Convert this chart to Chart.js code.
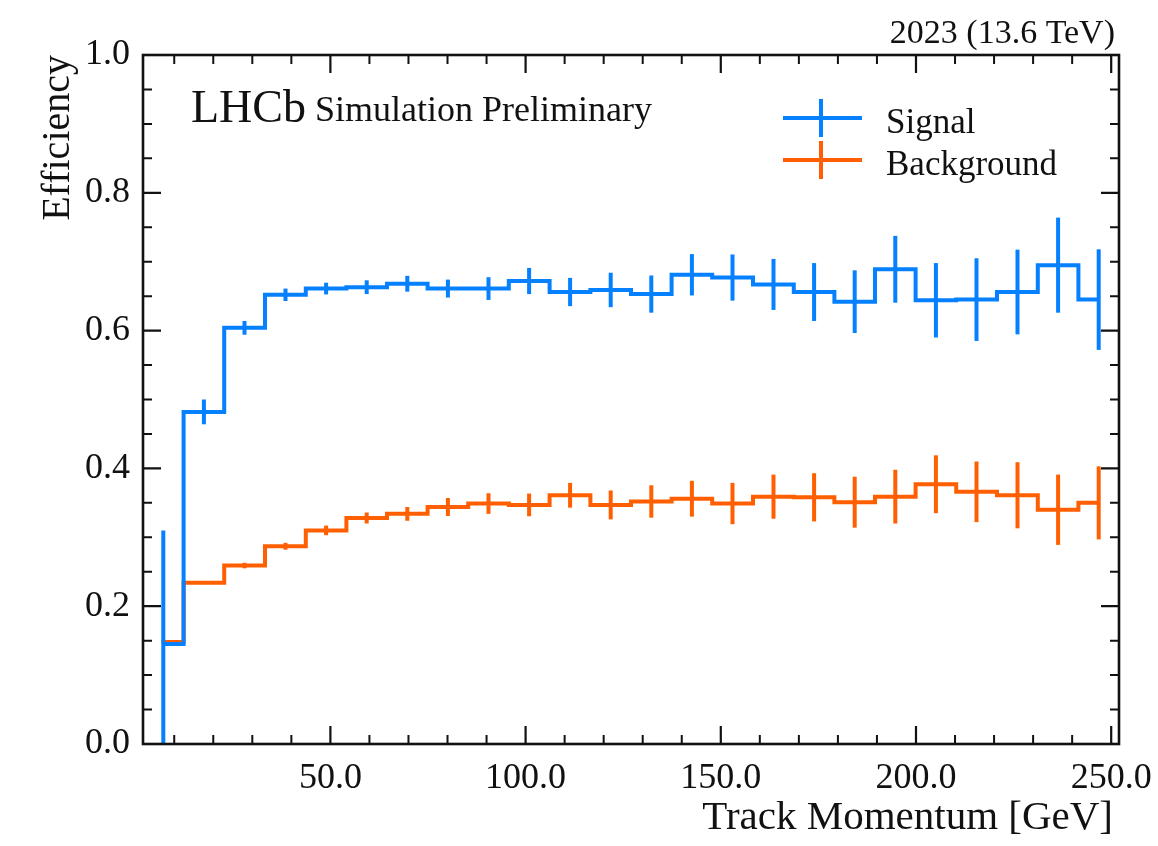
<!DOCTYPE html>
<html>
<head>
<meta charset="utf-8">
<script src="https://cdn.jsdelivr.net/npm/chart.js@4.4.1/dist/chart.umd.min.js"></script>
<style>
  html, body { margin: 0; padding: 0; background: #ffffff; }
  #wrap { width: 1158px; height: 846px; }
</style>
</head>
<body>
<div id="wrap"><canvas id="effChart" width="1158" height="846"></canvas></div>
<script>
// Bin centres of the track momentum histogram [GeV]
const binCenters = [7.2, 17.6, 28.0, 38.5, 48.9, 59.3, 69.7, 80.1, 90.5, 100.9, 111.4, 121.8,
                    132.2, 142.6, 153.0, 163.5, 173.9, 184.3, 194.7, 205.1, 215.5, 226.0, 236.4, 246.8];

// Efficiencies
const signalEff = [0.145, 0.482, 0.604, 0.652, 0.661, 0.663, 0.668, 0.661, 0.661, 0.672, 0.656, 0.659,
                   0.653, 0.681, 0.677, 0.667, 0.656, 0.642, 0.689, 0.644, 0.645, 0.656, 0.695, 0.645];
const signalErr = [0.165, 0.018, 0.010, 0.009, 0.0085, 0.010, 0.0115, 0.013, 0.0165, 0.019, 0.0205, 0.025,
                   0.027, 0.030, 0.0335, 0.037, 0.042, 0.0455, 0.0485, 0.054, 0.060, 0.0615, 0.069, 0.073];

const backgroundEff = [0.148, 0.234, 0.259, 0.287, 0.310, 0.328, 0.334, 0.344, 0.349, 0.347, 0.361, 0.347,
                       0.352, 0.356, 0.349, 0.359, 0.358, 0.351, 0.359, 0.377, 0.366, 0.361, 0.340, 0.350];
const backgroundErr = [0.002, 0.002, 0.004, 0.005, 0.007, 0.008, 0.010, 0.013, 0.015, 0.0165, 0.018, 0.021,
                       0.0235, 0.026, 0.030, 0.032, 0.035, 0.037, 0.039, 0.042, 0.044, 0.048, 0.051, 0.053];

const seriesLabels = ['Signal', 'Background'];

// Axis ticks
const xMajorTicks = [50, 100, 150, 200, 250];
const xMinorTicks = [10, 20, 30, 40, 60, 70, 80, 90, 110, 120, 130, 140, 160, 170, 180, 190, 210, 220, 230, 240];
const yMajorTicks = [0.0, 0.2, 0.4, 0.6, 0.8, 1.0];
const yMinorTicks = [0.05, 0.1, 0.15, 0.25, 0.3, 0.35, 0.45, 0.5, 0.55, 0.65, 0.7, 0.75, 0.85, 0.9, 0.95];

const SERIF = '"Liberation Serif", "DejaVu Serif", serif';
const BLUE = '#0580ff';
const ORANGE = '#ff5f00';

function toPoints(xs, ys) {
    return xs.map((x, i) => ({ x: x, y: ys[i] }));
}

/**
 * Error bars, inward ticks on all sides, frame, legend and labels
 */
const hepStyle = {
    id: 'hepStyle',
    afterDatasetDraw(chart, args) {
        const ds = chart.data.datasets[args.index];
        const { ctx, chartArea, scales: { x, y } } = chart;
        ctx.save();
        ctx.beginPath();
        ctx.rect(chartArea.left, chartArea.top, chartArea.right - chartArea.left, chartArea.bottom - chartArea.top);
        ctx.clip();
        ctx.strokeStyle = ds.borderColor;
        ctx.lineWidth = 4;
        ds.data.forEach((p, i) => {
            const px = x.getPixelForValue(p.x);
            ctx.beginPath();
            ctx.moveTo(px, y.getPixelForValue(p.y - ds.errors[i]));
            ctx.lineTo(px, y.getPixelForValue(p.y + ds.errors[i]));
            ctx.stroke();
        });
        ctx.restore();
    },
    afterDraw(chart) {
        const { ctx, chartArea: a, scales: { x, y } } = chart;
        ctx.save();
        ctx.strokeStyle = '#111';

        // ticks pointing into the plot, on all four sides
        const drawX = (vals, len) => vals.forEach(v => {
            const px = x.getPixelForValue(v);
            ctx.beginPath();
            ctx.moveTo(px, a.bottom); ctx.lineTo(px, a.bottom - len);
            ctx.moveTo(px, a.top); ctx.lineTo(px, a.top + len);
            ctx.stroke();
        });
        const drawY = (vals, len) => vals.forEach(v => {
            const py = y.getPixelForValue(v);
            ctx.beginPath();
            ctx.moveTo(a.left, py); ctx.lineTo(a.left + len, py);
            ctx.moveTo(a.right, py); ctx.lineTo(a.right - len, py);
            ctx.stroke();
        });
        ctx.lineWidth = 2.2;
        drawX(xMajorTicks, 18);
        drawY(yMajorTicks, 18);
        ctx.lineWidth = 2;
        drawX(xMinorTicks, 9);
        drawY(yMinorTicks, 9);

        // frame
        ctx.lineWidth = 2.6;
        ctx.strokeRect(a.left, a.top, a.right - a.left, a.bottom - a.top);

        // texts
        ctx.fillStyle = '#111';
        ctx.textBaseline = 'alphabetic';
        ctx.textAlign = 'left';
        ctx.font = '46px ' + SERIF;
        ctx.fillText('LHCb', 191, 122);
        ctx.font = '36px ' + SERIF;
        ctx.fillText('Simulation Preliminary', 315, 121);

        ctx.textAlign = 'right';
        ctx.font = '34px ' + SERIF;
        ctx.fillText('2023 (13.6 TeV)', 1115, 43);

        ctx.font = '41px ' + SERIF;
        ctx.fillText('Track Momentum [GeV]', 1113, 829);

        ctx.save();
        ctx.translate(58, a.top);
        ctx.rotate(-Math.PI / 2);
        ctx.textAlign = 'right';
        ctx.textBaseline = 'middle';
        ctx.font = '40px ' + SERIF;
        ctx.fillText('Efficiency', 0, 0);
        ctx.restore();

        // legend: line with a vertical error bar
        chart.data.datasets.forEach((ds, i) => {
            const ly = 118 + i * 42;
            ctx.strokeStyle = ds.borderColor;
            ctx.lineWidth = 4;
            ctx.beginPath();
            ctx.moveTo(783, ly); ctx.lineTo(862, ly);
            ctx.moveTo(821, ly - 19); ctx.lineTo(821, ly + 19);
            ctx.stroke();
            ctx.fillStyle = '#111';
            ctx.textAlign = 'left';
            ctx.textBaseline = 'alphabetic';
            ctx.font = '35px ' + SERIF;
            ctx.fillText(ds.label, 886, ly + 15);
        });
        ctx.restore();
    }
};

const ctx = document.getElementById('effChart').getContext('2d');

new Chart(ctx, {
    type: 'line',
    data: {
        datasets: [
            {
                label: seriesLabels[0],
                data: toPoints(binCenters, signalEff),
                errors: signalErr,
                borderColor: BLUE,
                borderWidth: 4,
                stepped: 'middle',
                pointRadius: 0,
                fill: false
            },
            {
                label: seriesLabels[1],
                data: toPoints(binCenters, backgroundEff),
                errors: backgroundErr,
                borderColor: ORANGE,
                borderWidth: 4,
                stepped: 'middle',
                pointRadius: 0,
                fill: false
            }
        ]
    },
    options: {
        responsive: false,
        animation: false,
        devicePixelRatio: 1,
        layout: { padding: { top: 55, right: 39, left: 0, bottom: 0 } },
        plugins: {
            legend: { display: false },
            tooltip: { enabled: false }
        },
        scales: {
            x: {
                type: 'linear',
                min: 2,
                max: 252,
                grid: { display: false, drawTicks: false },
                border: { display: false },
                afterBuildTicks: scale => { scale.ticks = xMajorTicks.map(v => ({ value: v })); },
                afterFit: scale => {
                    scale.height = 102;
                    scale.paddingLeft = 0;
                    scale.paddingRight = 0;
                },
                ticks: {
                    color: '#111',
                    padding: 13,
                    maxRotation: 0,
                    font: { family: SERIF, size: 36 },
                    callback: v => Number(v).toFixed(1)
                }
            },
            y: {
                min: 0,
                max: 1,
                grid: { display: false, drawTicks: false },
                border: { display: false },
                afterBuildTicks: scale => { scale.ticks = yMajorTicks.map(v => ({ value: v })); },
                afterFit: scale => {
                    scale.width = 143;
                    scale.paddingTop = 0;
                    scale.paddingBottom = 0;
                },
                ticks: {
                    color: '#111',
                    padding: 13,
                    font: { family: SERIF, size: 36 },
                    callback: v => Number(v).toFixed(1)
                }
            }
        }
    },
    plugins: [hepStyle]
});
</script>
</body>
</html>
